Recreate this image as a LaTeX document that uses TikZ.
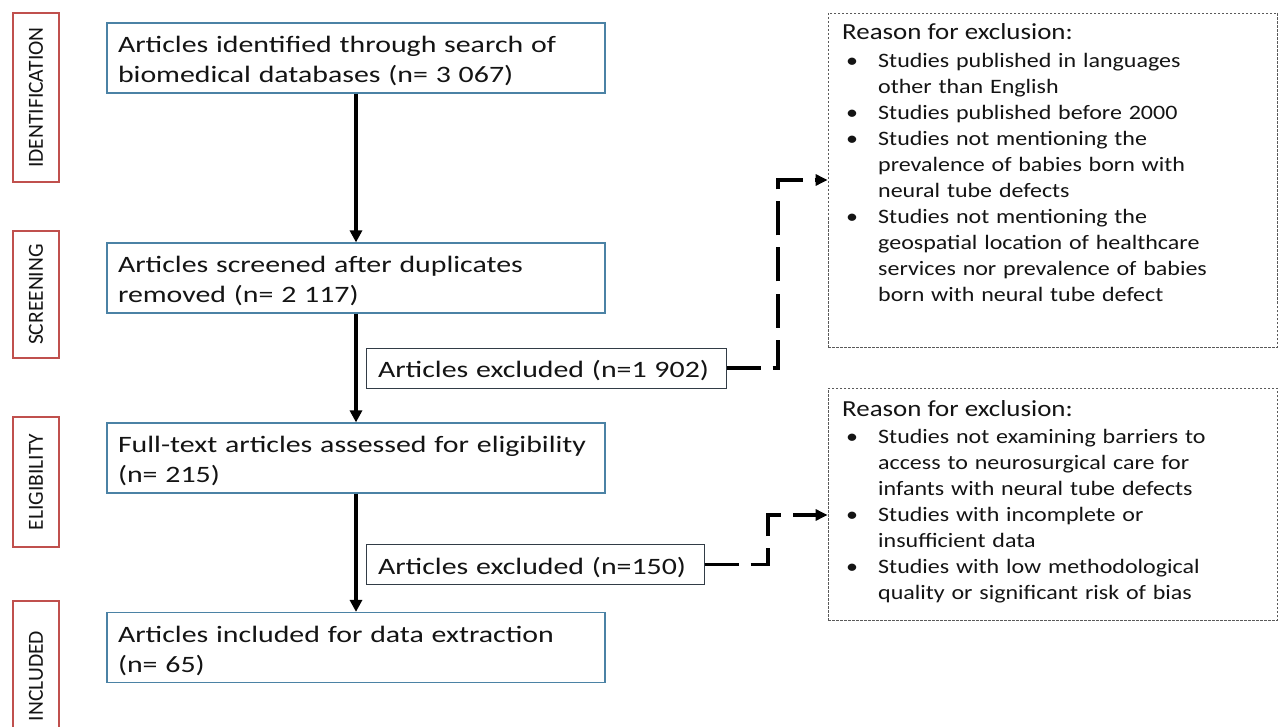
\documentclass[tikz,border=0pt]{standalone}
\usepackage{fontspec}
\setmainfont{Carlito}[FakeStretch=1.27]
\newfontfamily\reasonfont{Carlito}[FakeStretch=1.17]
\newfontfamily\stagefont{Carlito}
\usetikzlibrary{arrows.meta}
\definecolor{boxblue}{RGB}{75,130,165}
\definecolor{stagered}{RGB}{192,80,77}
\definecolor{exclgray}{RGB}{50,60,70}
\definecolor{txt}{RGB}{20,20,20}
\definecolor{dashgray}{RGB}{90,90,90}
\newcommand\rbul{\hspace*{4pt}\makebox[32pt][l]{•}}
\newcommand\rind{\hspace*{36pt}}
\newcommand\tstrut{\rule{0pt}{22.5pt}}
\begin{document}
\begin{tikzpicture}[x=1pt,y=-1pt,
  stagebox/.style={draw=stagered, line width=1.2pt, minimum height=46pt, inner sep=0pt,
    font=\stagefont\fontsize{21.5pt}{24pt}\selectfont, text=txt, rotate=90},
  mainbox/.style={draw=boxblue, line width=1.2pt, text width=476pt, inner xsep=11pt, inner ysep=0pt,
    minimum height=70pt, align=left, font=\fontsize{23.5pt}{30pt}\selectfont, text=txt},
  exclbox/.style={draw=exclgray, line width=1pt, inner xsep=12pt, inner ysep=0pt,
    minimum height=40pt, align=left, font=\fontsize{23.5pt}{30pt}\selectfont, text=txt},
  reasonbox/.style={draw=dashgray, line width=0.8pt, dash pattern=on 2.5pt off 1.5pt, inner sep=0pt},
  reasonhead/.style={anchor=base west, inner sep=0pt,
    font=\reasonfont\fontsize{23pt}{26pt}\selectfont, text=txt},
  reasontext/.style={anchor=north west, inner sep=0pt, text width=430pt, align=left,
    font=\reasonfont\fontsize{20.5pt}{26pt}\selectfont, text=txt},
  flow/.style={line width=3.5pt, -{Triangle[width=12pt,length=12pt]}},
  dflow/.style={line width=3.5pt, dash pattern=on 34pt off 12pt, -{Triangle[width=11pt,length=12pt]}},
]
\useasboundingbox (0,0) rectangle (1279,727);
\fill[white] (0,0) rectangle (1279,727);
\clip (0,0) rectangle (1279,727);

% stage labels
\node[stagebox, minimum width=169pt] (s1) at (36,97.5) {IDENTIFICATION};
\node[stagebox, minimum width=127pt] (s2) at (36,294.5) {SCREENING};
\node[stagebox, minimum width=130pt] (s3) at (36,482) {ELIGIBILITY};
\node[stagebox, minimum width=150pt] (s4) at (36,676) {INCLUDED};

% main boxes
\node[mainbox] (b1) at (356,58) {\tstrut\mbox{Articles identified through search of}\\\mbox{biomedical databases (n= 3 067)}};
\node[mainbox] (b2) at (356,278) {\tstrut\mbox{Articles screened after duplicates}\\\mbox{removed (n= 2 117)}};
\node[mainbox] (b3) at (356,458) {\tstrut\mbox{Full-text articles assessed for eligibility}\\(n= 215)};
\node[mainbox] (b4) at (356,647.5) {\tstrut\mbox{Articles included for data extraction}\\(n= 65)};

% excluded boxes
\node[exclbox, text width=336pt] (e1) at (546,368) {\tstrut\mbox{Articles excluded (n=1 902)}};
\node[exclbox, text width=314pt] (e2) at (535,564.5) {\tstrut\mbox{Articles excluded (n=150)}};

% reason boxes
\node[reasonbox, minimum width=449pt, minimum height=334pt] (r1) at (1052.5,180) {};
\node[reasonbox, minimum width=449pt, minimum height=232pt] (r2) at (1052.5,504) {};
\node[reasonhead] (r1h) at (842,40) {Reason for exclusion:};
\node[reasontext] (r1t) at (842,53) {\rbul Studies published in languages\\
\rind other than English\\
\rbul Studies published before 2000\\
\rbul Studies not mentioning the\\
\rind prevalence of babies born with\\
\rind neural tube defects\\
\rbul Studies not mentioning the\\
\rind geospatial location of healthcare\\
\rind services nor prevalence of babies\\
\rind born with neural tube defect};
\node[reasonhead] (r2h) at (842,416) {Reason for exclusion:};
\node[reasontext] (r2t) at (842,429) {\rbul Studies not examining barriers to\\
\rind access to neurosurgical care for\\
\rind infants with neural tube defects\\
\rbul Studies with incomplete or\\
\rind insufficient data\\
\rbul Studies with low methodological\\
\rind quality or significant risk of bias};

% connectors
\draw[flow] (b1.south) -- (b2.north);
\draw[flow] (b2.south) -- (b3.north);
\draw[flow] (b3.south) -- (b4.north);

\coordinate (k1) at (778,180);
\coordinate (k2) at (768,515);
\draw[dflow] (e1.east) -| (k1) -- (k1 -| r1.west);
\draw[dflow] (e2.east) -| (k2) -- (k2 -| r2.west);
\end{tikzpicture}
\end{document}
